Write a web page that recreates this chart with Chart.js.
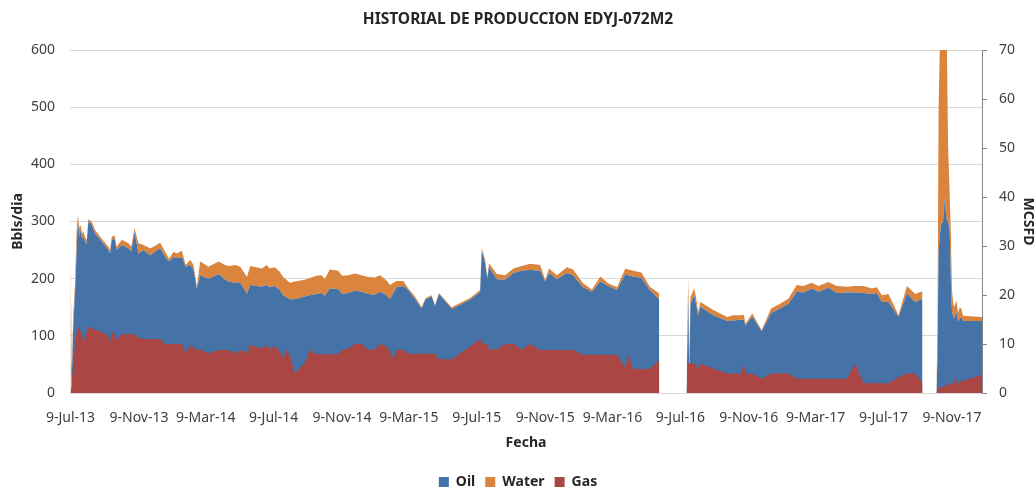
<!DOCTYPE html>
<html><head><meta charset="utf-8">
<script src="https://cdn.jsdelivr.net/npm/chart.js@4.4.1/dist/chart.umd.min.js"></script>
<style>html,body{margin:0;padding:0;background:#fff}#wrap{width:1036px;height:493px;position:relative}</style>
</head><body><div id="wrap"><canvas id="c"></canvas></div>
<script>
const dates = [
"2013-07-09","2013-07-10","2013-07-11","2013-07-14","2013-07-17","2013-07-20","2013-07-22","2013-07-25","2013-07-27","2013-07-30",
"2013-08-01","2013-08-04","2013-08-07","2013-08-10","2013-08-16","2013-08-22","2013-09-03","2013-09-15","2013-09-18","2013-09-21",
"2013-09-26","2013-09-30","2013-10-09","2013-10-21","2013-10-26","2013-11-01","2013-11-08","2013-11-17","2013-11-29","2013-12-05",
"2013-12-17","2013-12-26","2014-01-02","2014-01-10","2014-01-16","2014-01-25","2014-02-01","2014-02-09","2014-02-15","2014-02-21",
"2014-02-27","2014-03-14","2014-04-01","2014-04-13","2014-04-19","2014-05-01","2014-05-10","2014-05-22","2014-05-28","2014-06-18",
"2014-06-26","2014-07-02","2014-07-11","2014-07-20","2014-07-26","2014-08-01","2014-08-07","2014-08-16","2014-09-03","2014-09-12",
"2014-09-24","2014-10-03","2014-10-09","2014-10-18","2014-11-02","2014-11-09","2014-11-20","2014-12-02","2014-12-14","2014-12-26",
"2015-01-07","2015-01-16","2015-01-28","2015-02-03","2015-02-09","2015-02-15","2015-02-27","2015-03-08","2015-03-20","2015-04-01",
"2015-04-08","2015-04-19","2015-04-25","2015-05-02","2015-05-13","2015-05-25","2015-06-27","2015-07-15","2015-07-18","2015-07-24",
"2015-07-28","2015-07-31","2015-08-14","2015-08-29","2015-09-13","2015-09-28","2015-10-13","2015-10-31","2015-11-09","2015-11-16",
"2015-11-30","2015-12-18","2015-12-29","2016-01-16","2016-02-01","2016-02-16","2016-03-01","2016-03-17","2016-04-01","2016-04-06",
"2016-04-15","2016-04-30","2016-05-15","2016-06-01",
"2016-06-20",
"2016-07-20","2016-07-23","2016-07-25","2016-07-27","2016-07-30","2016-08-03","2016-08-06","2016-08-10","2016-08-14","2016-09-06",
"2016-10-01","2016-10-12","2016-10-26","2016-10-31","2016-11-03","2016-11-15","2016-12-02","2016-12-19","2017-01-04","2017-01-19",
"2017-02-03","2017-02-15","2017-03-02","2017-03-14","2017-04-01","2017-04-16","2017-05-04","2017-05-19","2017-06-03","2017-06-18",
"2017-06-27","2017-07-06","2017-07-18","2017-08-05","2017-08-20","2017-09-04","2017-09-17",
"2017-10-01",
"2017-10-12","2017-10-14","2017-10-16","2017-10-20","2017-10-24","2017-10-27","2017-10-30","2017-11-02","2017-11-05","2017-11-07",
"2017-11-08","2017-11-09","2017-11-11","2017-11-13","2017-11-17","2017-11-20","2017-11-23","2017-11-26","2017-11-29","2018-01-02"
];
const oil = [
2,10,20,120,175,250,302,273,285,270,
275,265,260,301,294,279,265,250,244,268,
270,250,259,253,248,282,244,250,241,245,
253,238,230,238,236,237,221,224,215,183,
206,200,208,198,195,193,193,174,189,186,
189,185,187,180,171,168,164,164,169,171,
173,175,170,183,182,173,175,179,177,173,
172,177,171,164,175,185,187,180,165,148,
164,169,152,173,161,147,163,177,250,227,
200,221,199,198,210,214,215,214,195,210,
199,210,206,185,177,195,187,180,208,206,
204,201,180,164,
null,
5,170,20,156,162,171,156,136,151,136,
126,127,128,128,118,134,108,140,148,156,
177,176,183,177,184,175,176,176,175,173,
175,159,159,133,174,159,165,
null,
0,60,250,294,300,341,305,300,282,201,
160,142,135,131,142,125,130,133,126,126
];
const water = [
228,145,20,20,15,35,9,15,9,9,
8,8,8,3,6,6,5,6,6,5,
6,6,9,9,8,6,18,9,12,11,
10,9,5,9,8,12,3,9,9,3,
24,21,22,26,27,31,28,29,33,32,
35,33,33,32,32,30,29,31,29,30,
32,31,30,33,32,32,31,30,29,30,
30,29,26,25,18,11,9,3,4,2,
2,2,2,2,2,3,3,3,3,6,
4,6,9,8,8,8,11,10,3,8,
7,10,10,7,4,9,5,5,10,10,
10,10,6,10,
null,
5,33,40,12,12,12,12,6,8,9,
7,9,8,9,3,5,2,8,8,9,
12,11,10,10,10,12,10,11,12,10,
10,12,14,3,13,14,13,
null,
0,60,250,396,350,359,375,134,64,79,
70,38,25,19,20,15,20,14,9,7
];
const gas = [
0,0.5,1.5,6,10,12.5,13.2,13.5,12.5,11.5,
10.1,11.5,12.5,13.5,13.2,12.9,12.5,11.5,10.1,12.5,
12,10.8,12,12,12,12,11.2,11,11,11,
11,10,10,10,10,10,8.1,9.8,9.3,8.8,
8.9,8.1,8.8,8.8,8.8,8.1,8.8,8.1,9.8,9.1,
9.8,9,9.5,8.5,7.1,8.8,7.8,4,6.1,8.8,
7.9,7.9,7.9,7.9,7.9,8.8,9.1,10,10,8.9,
8.9,10,9.5,8.4,6.9,8.8,8.8,8,8,8,
8,8,8,6.9,6.9,6.9,9.5,11,10.2,10,
10,8.9,8.9,10,10,8.9,10,8.8,8.8,8.8,
8.8,8.8,8.8,7.8,7.8,7.8,7.8,7.8,5.1,7.8,
4.9,4.9,4.9,6.7,
null,
0,6.3,6,6,6,6,5.5,5,6,5,
4,4,4,6,4,4,2.9,4,4,4,
2.9,2.9,2.9,2.9,2.9,2.9,2.9,6,2,2,
2,2,2,3.2,4,4,2,
null,
0,0.8,1,1.2,1.3,1.5,1.5,2,1.8,1.6,
1.6,1.8,2,2.2,3,1.8,2.4,2.2,2.5,3.7
];
const tickDates = ["2013-07-09","2013-11-09","2014-03-09","2014-07-09","2014-11-09","2015-03-09","2015-07-09",
"2015-11-09","2016-03-09","2016-07-09","2016-11-09","2017-03-09","2017-07-09","2017-11-09"];
const tickLabels = ["9-Jul-13","9-Nov-13","9-Mar-14","9-Jul-14","9-Nov-14","9-Mar-15","9-Jul-15",
"9-Nov-15","9-Mar-16","9-Jul-16","9-Nov-16","9-Mar-17","9-Jul-17","9-Nov-17"];
const axisStart = "2013-07-08";
const axisEnd = "2018-01-02";

const T0 = Date.UTC(2013,6,9);
function dayOf(s){const p=s.split('-').map(Number);return (Date.UTC(p[0],p[1]-1,p[2])-T0)/86400000;}
const xs = dates.map(dayOf);
const tickDays = tickDates.map(dayOf);
const pts = arr => arr.map((v,i)=>({x:xs[i], y:v}));

Chart.defaults.font.family = "'Noto Sans', sans-serif";
const txt = '#404040', dark = '#262626';

const legendShift = {
  id:'legendShift',
  afterLayout(chart){ if(chart.legend){ chart.legend.top += 6; chart.legend.bottom += 6; } }
};

new Chart(document.getElementById('c'), {
  type:'line',
  plugins:[legendShift],
  data:{datasets:[
    {label:'Oil', data:pts(oil), yAxisID:'y', backgroundColor:'#4572A7', borderColor:'#4572A7', borderWidth:0, fill:'origin', order:1, pointRadius:0, spanGaps:false, tension:0},
    {label:'Water', data:pts(water), yAxisID:'y', backgroundColor:'#DB843D', borderColor:'#DB843D', borderWidth:0, fill:'-1', order:2, pointRadius:0, spanGaps:false, tension:0},
    {label:'Gas', data:pts(gas), yAxisID:'y1', backgroundColor:'#AA4643', borderColor:'#AA4643', borderWidth:0, fill:'origin', order:0, pointRadius:0, spanGaps:false, tension:0}
  ]},
  options:{
    responsive:true, maintainAspectRatio:false, animation:false, devicePixelRatio:1,
    layout:{padding:0},
    plugins:{
      title:{display:true, text:'HISTORIAL DE PRODUCCION EDYJ-072M2', font:{size:15.5, weight:'bold'}, color:dark, padding:{top:10,bottom:21.4}},
      legend:{position:'bottom', labels:{boxWidth:10, boxHeight:10, font:{size:14, weight:'bold'}, color:dark, padding:10, sort:(a,b)=>a.datasetIndex-b.datasetIndex}},
      tooltip:{enabled:false}
    },
    scales:{
      x:{type:'linear', min:dayOf(axisStart), max:dayOf(axisEnd),
         grid:{display:false}, border:{display:true,color:'#D9D9D9'},
         afterBuildTicks:s=>{s.ticks=tickDays.map(v=>({value:v}));},
         afterFit:s=>{s.height=66;},
         ticks:{autoSkip:false, maxRotation:0, minRotation:0, padding:9, color:txt, font:{size:14},
                callback:(v,i)=>tickLabels[i]},
         title:{display:true,text:'Fecha', font:{size:14,weight:'bold'}, color:dark, padding:{top:0,bottom:8}}},
      y:{position:'left', stacked:true, min:0, max:600,
         ticks:{stepSize:100, padding:15, color:txt, font:{size:14}},
         grid:{color:'#D9D9D9', drawTicks:false}, border:{display:false},
         afterFit:s=>{s.width=70;},
         title:{display:true,text:'Bbls/dia', font:{size:14,weight:'bold'}, color:dark, padding:{top:10,bottom:0}}},
      y1:{position:'right', min:0, max:70,
         ticks:{stepSize:10, padding:12, color:txt, font:{size:14}},
         grid:{drawOnChartArea:false, drawTicks:true, tickLength:5, color:'#868686'}, border:{display:true,color:'#868686'},
         afterFit:s=>{s.width=54;},
         title:{display:true,text:'MCSFD', font:{size:14,weight:'bold'}, color:dark, padding:{top:0,bottom:0}}}
    }
  }
});
</script></body></html>
